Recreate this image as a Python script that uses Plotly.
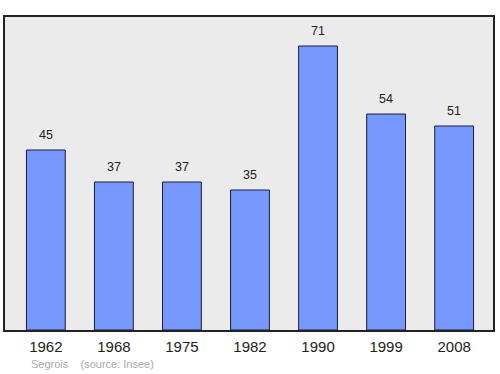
import plotly.graph_objects as go

years = ["1962", "1968", "1975", "1982", "1990", "1999", "2008"]
population = [45, 37, 37, 35, 71, 54, 51]

fig = go.Figure()
fig.add_trace(go.Bar(
    x=list(range(len(years))), y=population,
    width=0.57,
    marker=dict(color="#7799ff", line=dict(color="#1a1a40", width=1)),
    hoverinfo="skip",
))
for i, v in enumerate(population):
    fig.add_annotation(x=i, y=v, text=str(v), showarrow=False,
                       yanchor="bottom", yshift=6,
                       font=dict(size=12.5, color="#222222", family="Liberation Sans, Arial, sans-serif"))

fig.add_annotation(xref="paper", yref="paper", x=0.049, y=-0.083,
                   xanchor="left", yanchor="top", showarrow=False,
                   text="Segrois&nbsp;&nbsp;&nbsp;&nbsp;(source: Insee)",
                   font=dict(size=11, color="#aaaaaa", family="Liberation Sans, Arial, sans-serif"))

fig.update_layout(
    width=500, height=374,
    margin=dict(l=5, r=5, t=17, b=44),
    paper_bgcolor="white", plot_bgcolor="#ebebeb",
    showlegend=False,
    font=dict(family="Liberation Sans, Arial, sans-serif"),
    xaxis=dict(range=[-0.6, 6.571], tickmode="array",
               tickvals=list(range(len(years))), ticktext=years,
               showgrid=False, zeroline=False, showline=True, mirror=True,
               linecolor="#222222", linewidth=1.5, ticks="",
               ticklabelstandoff=2,
               tickfont=dict(size=15, color="#222222")),
    yaxis=dict(range=[0, 78.25], showticklabels=False, showgrid=False,
               zeroline=False, showline=True, mirror=True,
               linecolor="#222222", linewidth=1.5, ticks=""),
)
fig.write_html("out.html")
